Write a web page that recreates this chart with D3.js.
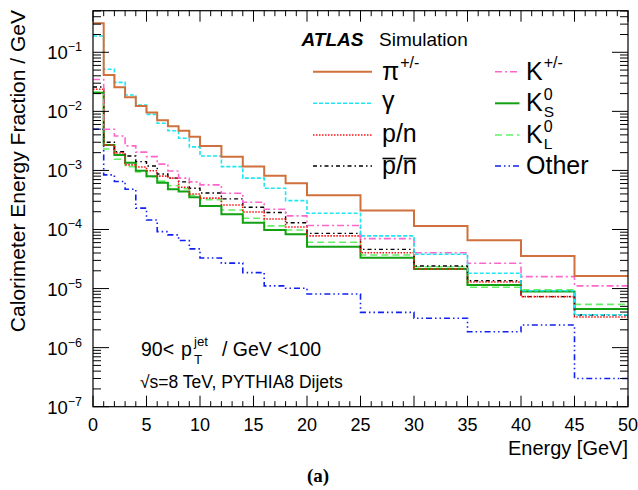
<!DOCTYPE html>
<html><head><meta charset="utf-8">
<script src="https://cdn.jsdelivr.net/npm/d3@7/dist/d3.min.js"></script>
<style>body{margin:0;background:#fff}svg{display:block;font-family:"Liberation Sans",Arial,sans-serif}</style>
</head><body>
<svg id="c" width="638" height="490"></svg>
<script>
// ---------- data ----------
const binEdges = [0,1,2,3,4,5,6,7,8,9,10,12,14,16,18,20,25,30,35,40,45,50];
const piPM   = [0.31,0.0413,0.0255,0.0173,0.0123,0.0096,0.0071,0.0056,0.0047,0.0037,0.0026,0.0017,0.00116,0.00081,0.000605,0.000379,0.000209,0.000115,6.6e-5,3.56e-5,1.63e-5];
const gamma  = [0.189,0.0515,0.031,0.0189,0.0128,0.0089,0.0063,0.0047,0.0035,0.0025,0.00175,0.00116,0.00074,0.0005,0.000308,0.000188,7.8e-5,3.8e-5,1.82e-5,9.2e-6,3.6e-6];
const pn     = [0.0237,0.0027,0.00197,0.00124,0.00114,0.00099,0.00080,0.00074,0.00052,0.0004,0.00034,0.00026,0.000198,0.000151,0.00011,7.8e-5,4.05e-5,2.15e-5,1.29e-5,7.3e-6,3.3e-6];
const pnBar  = [0.0259,0.003,0.00207,0.00175,0.00141,0.00119,0.00087,0.00074,0.00064,0.0005,0.000415,0.00033,0.000238,0.000194,0.00013,8.6e-5,4.6e-5,2.41e-5,1.36e-5,7.3e-6,3.57e-6];
const kPM    = [0.0347,0.00497,0.00383,0.0026,0.00204,0.00171,0.00128,0.00098,0.00074,0.00064,0.00057,0.00041,0.00029,0.00022,0.00017,0.000117,7.0e-5,4.05e-5,2.68e-5,1.59e-5,1.11e-5];
const kS     = [0.0207,0.0027,0.00182,0.00135,0.00099,0.0008,0.00062,0.00048,0.00044,0.00035,0.00025,0.000181,0.00013,9.8e-5,8.3e-5,5.1e-5,3.33e-5,2.15e-5,1.15e-5,8.9e-6,4.5e-6];
const kL     = [0.021,0.0023,0.00155,0.00116,0.00094,0.00078,0.00066,0.00055,0.00049,0.00038,0.00032,0.000214,0.000155,0.000115,9.8e-5,6.1e-5,3.7e-5,2.34e-5,1.05e-5,9.5e-6,5.4e-6];
const other  = [0.00497,0.00084,0.00065,0.00048,0.00023,0.000145,9.2e-5,8.1e-5,6.5e-5,4.7e-5,3.3e-5,2.7e-5,1.86e-5,1.11e-5,1.01e-5,8.1e-6,3.96e-6,3.14e-6,1.86e-6,2.42e-6,3.0e-7];
const xTickLabels = ["0","5","10","15","20","25","30","35","40","45","50"];
const yTickExps = [-1,-2,-3,-4,-5,-6,-7];

const series = [
  {name:"pi",  vals:piPM,  color:"#d0703c", dash:null,            w:2},
  {name:"gam", vals:gamma, color:"#1ee6f2", dash:"4,2",           w:1.6},
  {name:"pn",  vals:pn,    color:"#ff1010", dash:"1.5,1.5",       w:1.6},
  {name:"pnb", vals:pnBar, color:"#000000", dash:"4,3,1.5,3",     w:1.4},
  {name:"k",   vals:kPM,   color:"#ff66cc", dash:"7,3,2,3",       w:1.6},
  {name:"ks",  vals:kS,    color:"#13a013", dash:null,            w:2},
  {name:"kl",  vals:kL,    color:"#66f066", dash:"7,4",           w:1.6},
  {name:"oth", vals:other, color:"#1020f0", dash:"6,3,1.5,3,1.5,3", w:1.6}
];

// ---------- layout ----------
const L=93, R=628, T=10.7, B=406.7;
const svg = d3.select("#c");
const x = d3.scaleLinear().domain([0,50]).range([L,R]);
const y = d3.scaleLog().domain([1e-7,0.506]).range([B,T]);

// histograms
const drawOrder = ["oth","kl","ks","pnb","pn","k","gam","pi"];
svg.append("clipPath").attr("id","pc").append("rect").attr("x",L).attr("y",T).attr("width",R-L).attr("height",B-T);
const g = svg.append("g").attr("clip-path","url(#pc)");
drawOrder.forEach(n=>{
  const s = series.find(d=>d.name===n);
  const pts=[];
  s.vals.forEach((v,i)=>{ pts.push([x(binEdges[i]),y(v)]); pts.push([x(binEdges[i+1]),y(v)]); });
  g.append("path").attr("d",d3.line()(pts)).attr("fill","none")
   .attr("stroke",s.color).attr("stroke-width",s.w)
   .attr("stroke-dasharray",s.dash);
});

// frame
svg.append("rect").attr("x",L).attr("y",T).attr("width",R-L).attr("height",B-T)
  .attr("fill","none").attr("stroke","#000").attr("stroke-width",1.2);

// x ticks
const tk = svg.append("g").attr("stroke","#000").attr("stroke-width",1);
d3.range(0,51,1).forEach(v=>{
  const len = v%5===0 ? 11 : 5.5;
  tk.append("line").attr("x1",x(v)).attr("x2",x(v)).attr("y1",B).attr("y2",B-len);
  tk.append("line").attr("x1",x(v)).attr("x2",x(v)).attr("y1",T).attr("y2",T+len);
});
// y ticks (log)
for(let e=-7;e<=0;e++){
  for(let m=1;m<=9;m++){
    const v=m*Math.pow(10,e);
    if(v<1e-7||v>0.506) continue;
    const len = m===1 ? 16 : 8;
    tk.append("line").attr("x1",L).attr("x2",L+len).attr("y1",y(v)).attr("y2",y(v));
    tk.append("line").attr("x1",R).attr("x2",R-len).attr("y1",y(v)).attr("y2",y(v));
  }
}
// x labels
xTickLabels.forEach(t=>{
  svg.append("text").attr("x",x(+t)).attr("y",431).attr("text-anchor","middle")
    .attr("font-size",18).text(t);
});
// y labels
yTickExps.forEach(e=>{
  const t = svg.append("text").attr("x",82).attr("y",y(Math.pow(10,e))+7).attr("text-anchor","end").attr("font-size",18.5);
  t.append("tspan").text("10");
  t.append("tspan").attr("dy",-8).attr("font-size",12.5).text("\u2212"+(-e));
});
// axis titles
svg.append("text").attr("transform","translate(25,10) rotate(-90)").attr("text-anchor","end")
  .attr("font-size",21).text("Calorimeter Energy Fraction / GeV");
svg.append("text").attr("x",628).attr("y",455).attr("text-anchor","end").attr("font-size",20).text("Energy [GeV]");
svg.append("text").attr("x",318).attr("y",482).attr("text-anchor","middle").attr("font-size",19)
  .attr("font-weight","bold").attr("font-family","'Liberation Serif','Times New Roman',serif").text("(a)");

// ATLAS label
svg.append("text").attr("x",301.5).attr("y",46).attr("font-size",19).attr("font-weight","bold").attr("font-style","italic").text("ATLAS");
svg.append("text").attr("x",379).attr("y",46).attr("font-size",19).text("Simulation");

// legend
function sup(parent,xx,yy,main,supT,subT,fs){
  const t=parent.append("text").attr("x",xx).attr("y",yy).attr("font-size",fs).text(main);
  const w=t.node().getComputedTextLength();
  if(supT) parent.append("text").attr("x",xx+w+1).attr("y",yy-fs*0.45).attr("font-size",fs*0.64).text(supT);
  if(subT) parent.append("text").attr("x",xx+w+1).attr("y",yy+fs*0.22).attr("font-size",fs*0.62).text(subT);
  return t;
}
const leg = svg.append("g");
const legRows=[71.7,103.3,135,166];
const legItems=[
  {s:"pi", col:0,row:0},{s:"gam",col:0,row:1},{s:"pn",col:0,row:2},{s:"pnb",col:0,row:3},
  {s:"k",  col:1,row:0},{s:"ks", col:1,row:1},{s:"kl",col:1,row:2},{s:"oth",col:1,row:3}
];
legItems.forEach(it=>{
  const s=series.find(d=>d.name===it.s);
  const x1 = it.col===0?313:495, x2 = it.col===0?372:519.5;
  leg.append("line").attr("x1",x1).attr("x2",x2).attr("y1",legRows[it.row]).attr("y2",legRows[it.row])
    .attr("stroke",s.color).attr("stroke-width",s.w).attr("stroke-dasharray",s.dash);
});
const lx0=382, lx1=526, fs=25;
sup(leg,lx0,legRows[0]+8,"\u03c0","+/-",null,fs);
leg.append("text").attr("x",lx0).attr("y",legRows[1]+6).attr("font-size",fs).text("\u03b3");
leg.append("text").attr("x",lx0).attr("y",legRows[2]+7).attr("font-size",fs).text("p/n");
const pb=leg.append("text").attr("x",lx0).attr("y",legRows[3]+8).attr("font-size",fs).text("p/n");
{
  const n=pb.node();
  const wp=n.getSubStringLength(0,1), ws=n.getSubStringLength(1,1), wn=n.getSubStringLength(2,1);
  const oy=legRows[3]+8-fs*0.62;
  leg.append("line").attr("x1",lx0+0.5).attr("x2",lx0+wp-0.5).attr("y1",oy).attr("y2",oy).attr("stroke","#000").attr("stroke-width",1.6);
  leg.append("line").attr("x1",lx0+wp+ws+0.5).attr("x2",lx0+wp+ws+wn-0.5).attr("y1",oy).attr("y2",oy).attr("stroke","#000").attr("stroke-width",1.6);
}
sup(leg,lx1,legRows[0]+8,"K","+/-",null,fs);
sup(leg,lx1,legRows[1]+8,"K","0","S",fs);
sup(leg,lx1,legRows[2]+8,"K","0","L",fs);
leg.append("text").attr("x",lx1).attr("y",legRows[3]+8).attr("font-size",fs).text("Other");

// annotations
{
  const fs2=19.5;
  svg.append("text").attr("x",141).attr("y",356).attr("font-size",fs2).text("90<");
  svg.append("text").attr("x",181).attr("y",356).attr("font-size",fs2).text("p");
  svg.append("text").attr("x",194).attr("y",346).attr("font-size",fs2*0.68).text("jet");
  svg.append("text").attr("x",194).attr("y",364).attr("font-size",fs2*0.68).text("T");
  svg.append("text").attr("x",222).attr("y",356).attr("font-size",fs2).text("/ GeV <100");
  svg.append("text").attr("x",140).attr("y",388).attr("font-size",17.5).text("\u221as=8 TeV, PYTHIA8 Dijets");
}
</script>
</body></html>
